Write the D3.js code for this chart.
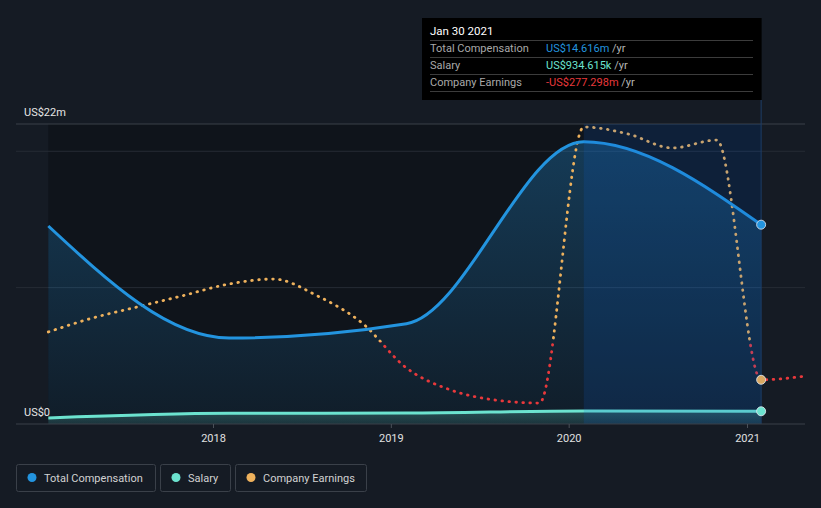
<!DOCTYPE html>
<html><head><meta charset="utf-8">
<script src="https://cdn.jsdelivr.net/npm/d3@7"></script>
<style>
html,body{margin:0;padding:0;background:#151b24;}
svg{display:block;font-family:Roboto,"Open Sans",sans-serif;}
</style></head><body>
<svg id="chart" width="821" height="508"></svg>
<script>
// ---- data ----
const compDates = ["2017-01-28","2018-02-03","2019-02-02","2020-02-01","2021-01-30"];
const totalComp = [14.52, 6.31, 7.35, 20.7, 14.616];          // US$ m
const salary    = [0.44, 0.78, 0.80, 0.95, 0.934615];          // US$ m
const earningsDates = ["2017-01-28","2017-04-29","2017-07-29","2017-10-28","2018-02-03","2018-05-05",
  "2018-08-04","2018-11-03","2019-02-02","2019-05-04","2019-08-03","2019-11-02","2020-02-01",
  "2020-05-02","2020-08-01","2020-10-31","2021-01-30","2021-05-01"];
const earnings = [72, 174, 254, 334, 422, 458, 334, 137, -191, -352, -425, -447, 1568,
  1517, 1415, 1473, -277.298, -250];                             // US$ m
const xTickDates = ["2018-01-01","2019-01-01","2020-01-01","2021-01-01"];
const xTickLabels = ["2018","2019","2020","2021"];
const yLabelValues = [0, 22];
const yLabels = ["US$0","US$22m"];
const gridValues = [10, 20];
const legendLabels = ["Total Compensation","Salary","Company Earnings"];
const tooltipTitle = "Jan 30 2021";
const tooltipRows = ["Total Compensation","Salary","Company Earnings"];
const tooltipValues = ["US$14.616m","US$934.615k","-US$277.298m"];

// ---- setup ----
const parse = d3.utcParse("%Y-%m-%d");
const svg = d3.select("#chart");
const C = {comp:"#2394df", sal:"#6ce3cf", earnPos:"#eeb15c", earnNeg:"#e8383b", bg:"#151b24"};

const x = d3.scaleUtc().domain([parse("2018-01-01"), parse("2021-01-01")]).range([213, 747]);
const y = d3.scaleLinear().domain([0, 22]).range([424, 124]);
const yE = d3.scaleLinear().domain([-600, 1590]).range([424, 124]);

const comp = compDates.map((d,i)=>({date:parse(d), v:totalComp[i]}));
const sal = compDates.map((d,i)=>({date:parse(d), v:salary[i]}));
const earn = earningsDates.map((d,i)=>({date:parse(d), v:earnings[i]}));

const x0 = x(comp[0].date), x1 = x(comp[comp.length-1].date);
const left = 16, right = 805;

const defs = svg.append("defs");
const gComp = defs.append("linearGradient").attr("id","gComp").attr("gradientUnits","userSpaceOnUse")
  .attr("x1",0).attr("x2",0).attr("y1",y(22)).attr("y2",y(0));
gComp.append("stop").attr("offset",0).attr("stop-color",C.comp).attr("stop-opacity",0.32);
gComp.append("stop").attr("offset",1).attr("stop-color",C.comp).attr("stop-opacity",0.07);
const gSal = defs.append("linearGradient").attr("id","gSal").attr("gradientUnits","userSpaceOnUse")
  .attr("x1",0).attr("x2",0).attr("y1",y(1)).attr("y2",y(0));
gSal.append("stop").attr("offset",0).attr("stop-color",C.sal).attr("stop-opacity",0.25);
gSal.append("stop").attr("offset",1).attr("stop-color",C.sal).attr("stop-opacity",0.12);
const zeroOff = (yE(0) - 124) / 300;
const gEarn = defs.append("linearGradient").attr("id","gEarn").attr("gradientUnits","userSpaceOnUse")
  .attr("x1",0).attr("x2",0).attr("y1",124).attr("y2",424);
gEarn.append("stop").attr("offset",zeroOff).attr("stop-color",C.earnPos);
gEarn.append("stop").attr("offset",zeroOff).attr("stop-color",C.earnNeg);

// plot background over data range
svg.append("rect").attr("x",x0).attr("y",y(22)).attr("width",x1-x0).attr("height",y(0)-y(22))
  .attr("fill","#0f141b");

// grid
svg.selectAll(".grid").data(gridValues).join("line")
  .attr("x1",left).attr("x2",right).attr("y1",d=>y(d)).attr("y2",d=>y(d))
  .attr("stroke","#262c35").attr("stroke-width",1);
svg.append("line").attr("x1",left).attr("x2",right).attr("y1",y(22)).attr("y2",y(22))
  .attr("stroke","#3a4049").attr("stroke-width",1);

// areas
const curve = d3.curveMonotoneX;
svg.append("path").datum(comp)
  .attr("d", d3.area().curve(curve).x(d=>x(d.date)).y0(y(0)).y1(d=>y(d.v)))
  .attr("fill","url(#gComp)");
svg.append("path").datum(sal)
  .attr("d", d3.area().curve(curve).x(d=>x(d.date)).y0(y(0)).y1(d=>y(d.v)))
  .attr("fill","url(#gSal)");

// lines
svg.append("path").datum(earn)
  .attr("d", d3.line().curve(curve).x(d=>x(d.date)).y(d=>yE(d.v)))
  .attr("fill","none").attr("stroke","url(#gEarn)").attr("stroke-width",2.8)
  .attr("stroke-linecap","round").attr("stroke-dasharray","0.6 6.4");
svg.append("path").datum(comp)
  .attr("d", d3.line().curve(curve).x(d=>x(d.date)).y(d=>y(d.v)))
  .attr("fill","none").attr("stroke",C.comp).attr("stroke-width",3);
svg.append("path").datum(sal)
  .attr("d", d3.line().curve(curve).x(d=>x(d.date)).y(d=>y(d.v)))
  .attr("fill","none").attr("stroke",C.sal).attr("stroke-width",3);

// highlight band
const bx0 = x(comp[comp.length-2].date);
svg.append("rect").attr("x",bx0).attr("y",y(22)).attr("width",x1-bx0).attr("height",y(0)-y(22))
  .attr("fill","#0a5fd0").attr("opacity",0.17);
svg.append("line").attr("x1",x1).attr("x2",x1).attr("y1",100).attr("y2",y(0))
  .attr("stroke","#1d3d66").attr("stroke-width",1);

// baseline + x axis
svg.append("line").attr("x1",left).attr("x2",right).attr("y1",y(0)).attr("y2",y(0))
  .attr("stroke","#3a4049").attr("stroke-width",1);
const ax = svg.append("g").attr("transform",`translate(0,${y(0)})`)
  .call(d3.axisBottom(x).tickValues(xTickDates.map(parse)).tickFormat((d,i)=>xTickLabels[i])
    .tickSize(4).tickPadding(6));
ax.select(".domain").remove();
ax.selectAll(".tick line").attr("stroke","#4a5058");
ax.selectAll(".tick text").attr("fill","#e0e0e0").attr("font-size",11)
  .attr("font-family","Roboto,'Open Sans',sans-serif");

// y labels
svg.selectAll(".ylab").data(yLabelValues).join("text")
  .attr("x",24).attr("y",d=>y(d)-8).text((d,i)=>yLabels[i])
  .attr("fill","#e6e6e6").attr("font-size",11);

// end dots
const last = comp.length-1;
const lastE = earn.find(d=>+d.date===+comp[last].date);
[[y(sal[last].v), C.sal],[yE(lastE.v), "#d9a862"],[y(comp[last].v), C.comp]].forEach(([cy,col])=>{
  svg.append("circle").attr("cx",x1).attr("cy",cy).attr("r",4.5)
    .attr("fill",col).attr("stroke","#e8eef5").attr("stroke-opacity",0.8).attr("stroke-width",1);
});

// tooltip
const tt = svg.append("g");
tt.append("rect").attr("x",422).attr("y",18).attr("width",x1-422+0.5).attr("height",82).attr("fill","#000");
tt.append("text").attr("x",430).attr("y",35).text(tooltipTitle).attr("fill","#ffffff").attr("font-size",11.5);
[40,57,74,91].forEach(yy=>tt.append("line").attr("x1",430).attr("x2",753).attr("y1",yy+0.5).attr("y2",yy+0.5)
  .attr("stroke","#3c3c3c"));
const valCols = [C.comp, C.sal, C.earnNeg];
tooltipRows.forEach((r,i)=>{
  const by = 52 + i*17;
  tt.append("text").attr("x",430).attr("y",by).text(r).attr("fill","#a9a9a9").attr("font-size",11);
  const t = tt.append("text").attr("x",546).attr("y",by).attr("font-size",11);
  t.append("tspan").text(tooltipValues[i]).attr("fill",valCols[i]);
  t.append("tspan").text(" /yr").attr("fill","#b5b5b5");
});

// legend
const legBoxes = [[16,139],[160,70],[235,131]];
const legCols = [C.comp, C.sal, C.earnPos];
legendLabels.forEach((l,i)=>{
  const [bx,bw] = legBoxes[i];
  const g = svg.append("g");
  g.append("rect").attr("x",bx+0.5).attr("y",464.5).attr("width",bw).attr("height",27).attr("rx",2)
    .attr("fill","none").attr("stroke","#3a4049");
  g.append("circle").attr("cx",bx+16).attr("cy",477.5).attr("r",4.5).attr("fill",legCols[i]);
  g.append("text").attr("x",bx+28).attr("y",481.5).text(l).attr("fill","#d2d2d2").attr("font-size",11);
});
</script>
</body></html>
